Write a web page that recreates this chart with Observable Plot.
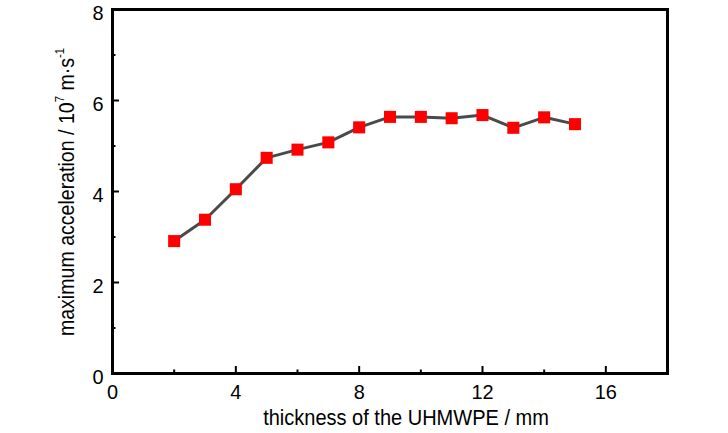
<!DOCTYPE html>
<html>
<head>
<meta charset="utf-8">
<script src="https://cdn.jsdelivr.net/npm/d3@7"></script>
<script src="https://cdn.jsdelivr.net/npm/@observablehq/plot@0.6"></script>
<style>
  html, body { margin: 0; padding: 0; background: #fff; }
</style>
</head>
<body>
<div id="chart"></div>
<script>
// Data
const thickness = [2, 3, 4, 5, 6, 7, 8, 9, 10, 11, 12, 13, 14, 15];
const acceleration = [2.91, 3.38, 4.05, 4.74, 4.92, 5.08, 5.41, 5.64, 5.64, 5.61, 5.68, 5.40, 5.63, 5.48];
const xMajorTicks = [0, 4, 8, 12, 16];
const xMinorTicks = [2, 6, 10, 14];
const yMajorTicks = [0, 2, 4, 6, 8];
const yMinorTicks = [1, 3, 5, 7];
const xLabel = "thickness of the UHMWPE / mm";
const yLabelParts = [["maximum acceleration / 10", false], ["7", true], [" m·s", false], ["-1", true]];

const data = thickness.map((t, i) => ({t, a: acceleration[i]}));

const W = 728, H = 433;
const mL = 112, mR = 61, mT = 9, mB = 60;
const plotW = W - mL - mR, plotH = H - mT - mB;
const font = "'Liberation Sans', Arial, sans-serif";

const chart = Plot.plot({
  width: W,
  height: H,
  marginLeft: mL,
  marginRight: mR,
  marginTop: mT,
  marginBottom: mB,
  style: {fontFamily: font, color: "black", background: "white", overflow: "visible"},
  x: {domain: [0, 18]},
  y: {domain: [0, 8]},
  marks: [
    // inward ticks
    Plot.tickX(xMajorTicks, {x: d => d, insetTop: plotH - 7, stroke: "black", strokeWidth: 2}),
    Plot.tickX(xMinorTicks, {x: d => d, insetTop: plotH - 3.5, stroke: "black", strokeWidth: 2}),
    Plot.tickY(yMajorTicks, {y: d => d, insetRight: plotW - 7, stroke: "black", strokeWidth: 2}),
    Plot.tickY(yMinorTicks, {y: d => d, insetRight: plotW - 3.5, stroke: "black", strokeWidth: 2}),
    Plot.axisX(xMajorTicks, {tickSize: 0, tickPadding: 11, fontSize: 21, label: null}),
    Plot.axisY(yMajorTicks, {tickSize: 0, tickPadding: 9, fontSize: 21, dy: 4, label: null}),
    Plot.frame({stroke: "black", strokeWidth: 3}),
    Plot.line(data, {x: "t", y: "a", stroke: "#4a4a4a", strokeWidth: 3}),
    Plot.dot(data, {x: "t", y: "a", symbol: "square", r: 6.8, fill: "#ff0000", stroke: "none"})
  ]
});

document.getElementById("chart").appendChild(chart);

// narrow (condensed) look of the original typeface
function condense(sel, s) {
  sel.each(function() {
    const t = this.getAttribute("transform");
    if (t) {
      this.setAttribute("transform", t + ` scale(${s},1)`);
    } else {
      const x = +(this.getAttribute("x") || 0), y = +(this.getAttribute("y") || 0);
      this.removeAttribute("x"); this.removeAttribute("y");
      this.setAttribute("transform", `translate(${x},${y}) scale(${s},1)`);
    }
  });
}
const svg = d3.select(chart);
condense(svg.selectAll("g[aria-label='x-axis tick label'] text"), 0.95);
condense(svg.selectAll("g[aria-label='y-axis tick label'] text"), 0.95);

// axis titles
const titles = svg.append("g").attr("font-family", font).attr("font-size", 22.5).attr("fill", "black");
titles.append("text")
  .attr("text-anchor", "middle")
  .attr("transform", `translate(406,424.5) scale(0.89,1)`)
  .text(xLabel);
const yt = titles.append("text")
  .attr("text-anchor", "middle")
  .attr("transform", `translate(74,192) rotate(-90) scale(0.87,1)`);
let sup = false;
for (const [txt, isSup] of yLabelParts) {
  const ts = yt.append("tspan").text(txt);
  if (isSup) { ts.attr("font-size", 13).attr("dy", -10); sup = true; }
  else if (sup) { ts.attr("dy", 10); sup = false; }
}
</script>
</body>
</html>
